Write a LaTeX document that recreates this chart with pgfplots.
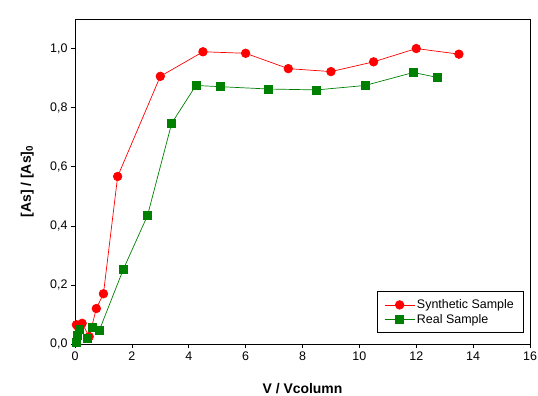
\documentclass[border=0pt]{standalone}
\usepackage{pgfplots}
\pgfplotsset{compat=1.18}
\usepackage{fontspec}
\setmainfont{Liberation Sans}
\definecolor{dgreen}{RGB}{0,128,0}
\begin{document}
\begin{tikzpicture}
\path[use as bounding box] (-75bp,-52bp) rectangle (463bp,344bp);
\begin{axis}[
  at={(0,0)}, anchor=south west,
  scale only axis, width=455bp, height=325bp,
  xmin=0, xmax=16, ymin=0, ymax=1.1,
  xtick={0,2,...,16}, ytick={0,0.2,0.4,0.6,0.8,1.0},
  tick pos=left, tick align=outside,
  major tick length=4bp,
  clip=false,
  axis line style={line width=0.8pt},
  every tick/.style={black, line width=0.6pt},
  /pgf/number format/assume math mode=true,
  yticklabel style={/pgf/number format/.cd, use comma, fixed, fixed zerofill, precision=1},
  xticklabel style={/pgf/number format/.cd, fixed},
  ticklabel style={font=\fontsize{12.5}{14}\selectfont},
  xlabel={\textbf{V / Vcolumn}},
  ylabel={\textbf{[As] / [As]$_{\mathbf{0}}$}},
  label style={font=\fontsize{14}{16}\selectfont},
  xlabel style={at={(axis description cs:0.5,-0.138)}, anchor=center},
  ylabel style={at={(axis description cs:-0.105,0.5)}, anchor=center},
  legend style={at={(0.985,0.034)}, anchor=south east, font=\fontsize{12.5}{14}\selectfont,
    draw=black, line width=0.6pt, inner xsep=7bp, inner ysep=6bp,
    /tikz/every even column/.append style={column sep=4bp}},
  legend cell align=left,
  legend image code/.code={
    \draw[#1, mark repeat=2, mark phase=2] plot coordinates {(0bp,0bp) (15bp,0bp) (30bp,0bp)};
  },
]
\addplot[red, line width=0.7pt, mark=*, mark size=4.3bp, mark options={fill=red, draw=red}]
coordinates {
(0.05,0.065) (0.1,0.06) (0.25,0.07) (0.5,0.025) (0.75,0.12) (1.0,0.17) (1.5,0.567)
(3.0,0.906) (4.5,0.989) (6.0,0.984) (7.5,0.932) (9.0,0.922) (10.5,0.955) (12.0,1.0) (13.5,0.981)
};
\addlegendentry{Synthetic Sample}
\addplot[dgreen, line width=0.7pt, mark=square*, mark size=4bp, mark options={fill=dgreen, draw=dgreen}]
coordinates {
(0.05,0.005) (0.1,0.03) (0.15,0.05) (0.45,0.018) (0.6,0.055) (0.85,0.045) (1.7,0.253)
(2.55,0.435) (3.4,0.747) (4.25,0.875) (5.1,0.871) (6.8,0.863) (8.5,0.860) (10.2,0.875)
(11.9,0.919) (12.75,0.902)
};
\addlegendentry{Real Sample}
\end{axis}
\end{tikzpicture}
\end{document}
